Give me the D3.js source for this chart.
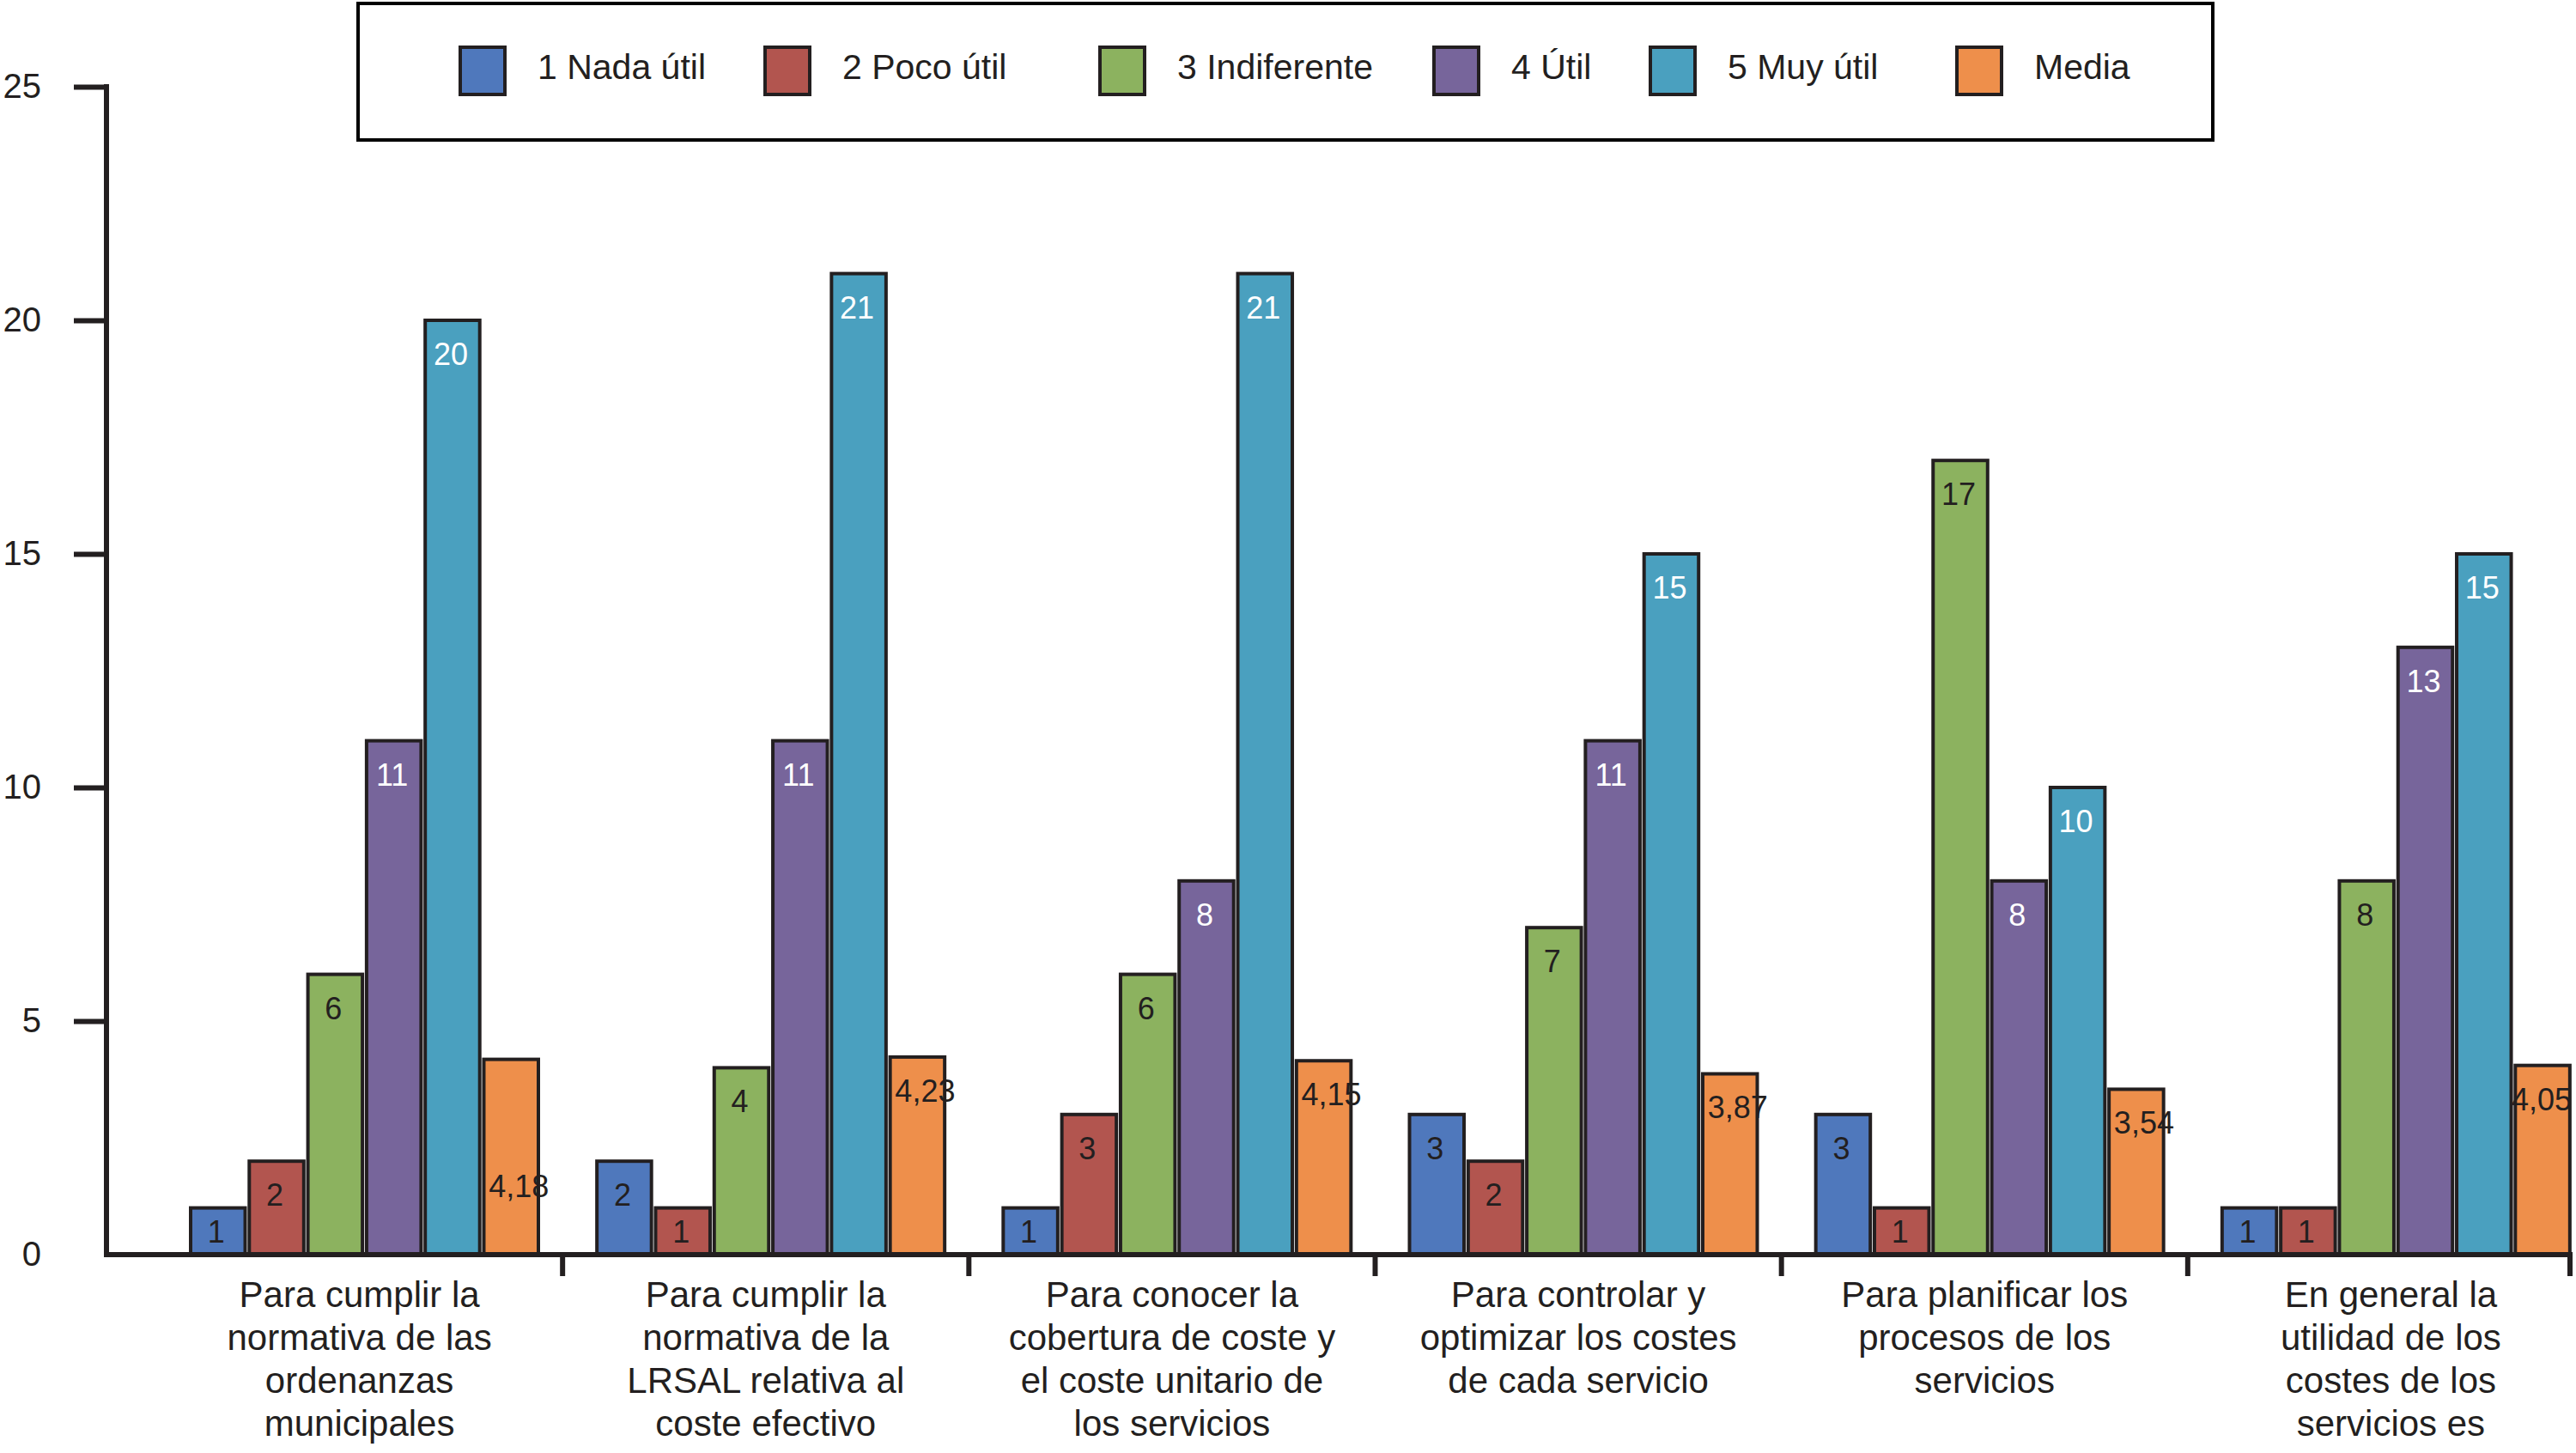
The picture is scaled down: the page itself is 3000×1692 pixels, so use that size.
<!DOCTYPE html>
<html lang="es">
<head>
<meta charset="UTF-8">
<title>Utilidad de los costes</title>
<script src="https://d3js.org/d3.v7.min.js"></script>
<style>
    body{ margin:0; background:#fff; }
    svg{ display:block; font-family:"Liberation Sans", Arial, Helvetica, sans-serif; }
</style>
</head>
<body>
<svg id="chart" width="3000" height="1692"></svg>
<script>
    // categorias (etiquetas del eje x, ya partidas en lineas)
    const categories = [
        ['Para cumplir la','normativa de las','ordenanzas','municipales'],
        ['Para cumplir la','normativa de la','LRSAL relativa al','coste efectivo'],
        ['Para conocer la','cobertura de coste y','el coste unitario de','los servicios'],
        ['Para controlar y','optimizar los costes','de cada servicio'],
        ['Para planificar los','procesos de los','servicios'],
        ['En general la','utilidad de los','costes de los','servicios es']
    ];
    const seriesNames = ['1 Nada útil','2 Poco útil','3 Indiferente','4 Útil','5 Muy útil','Media'];
    const nadaUtil    = [1, 2, 1, 3, 3, 1];
    const pocoUtil    = [2, 1, 3, 2, 1, 1];
    const indiferente = [6, 4, 6, 7, 17, 8];
    const util        = [11, 11, 8, 11, 8, 13];
    const muyUtil     = [20, 21, 21, 15, 10, 15];
    const media       = [4.18, 4.23, 4.15, 3.87, 3.54, 4.05];
    const yTicks = [0, 5, 10, 15, 20, 25];

    const values = [nadaUtil, pocoUtil, indiferente, util, muyUtil, media];
    const colors = ['#4f78bc','#b2554f','#8cb25f','#77659b','#4aa0bf','#ee8f4b'];
    const labelColors = ['#231f20','#231f20','#231f20','#fff','#fff','#231f20'];
    const ink = '#231f20';

    const svg = d3.select('#chart');
    const fmt = v => Number.isInteger(v) ? String(v) : v.toFixed(2).replace('.', ',');

    const y = d3.scaleLinear().domain([0,25]).range([1461,101]);
    const x0 = d3.scaleBand().domain(d3.range(categories.length)).range([182,3021]);
    const x1 = d3.scaleBand().domain(d3.range(seriesNames.length)).range([40,445]).paddingInner(0.07);

    // barras
    const groups = svg.append('g').selectAll('g')
        .data(categories)
        .join('g')
        .attr('transform',(d,i)=>`translate(${x0(i)},0)`);

    groups.each(function(c,ci){
        const g = d3.select(this);
        const rows = values.map((arr,si)=>({si, v:arr[ci]}));
        g.selectAll('rect')
            .data(rows)
            .join('rect')
            .attr('x',d=>x1(d.si))
            .attr('width',x1.bandwidth())
            .attr('y',d=>y(d.v))
            .attr('height',d=>y(0)-y(d.v))
            .attr('fill',d=>colors[d.si])
            .attr('stroke',ink)
            .attr('stroke-width',4);

        g.selectAll('text')
            .data(rows)
            .join('text')
            .text(d=>fmt(d.v))
            .attr('x',d=>{
                const cx = x1(d.si)+x1.bandwidth()/2+(d.si===5?9:-2);
                // que no se salga por la derecha
                return Math.min(cx, 3000-x0(ci)-40);
            })
            .attr('y',d=>{
                // etiqueta dentro del extremo, la media del primer grupo esta mas abajo
                if(d.si===5 && ci===0) return y(d.v)+160;
                return Math.min(y(d.v)+52, y(0)-14);
            })
            .attr('text-anchor','middle')
            .attr('font-size',36)
            .attr('fill',d=>labelColors[d.si]);
    });

    // eje y
    const yAxis = svg.append('g')
        .attr('transform','translate(124,0)')
        .call(d3.axisLeft(y).tickValues(yTicks).tickSize(38).tickSizeOuter(0).tickPadding(38).tickFormat(d3.format('d')));
    yAxis.select('.domain').remove();
    yAxis.selectAll('.tick line').attr('stroke',ink).attr('stroke-width',6)
        .filter(d=>d===0).remove();
    yAxis.selectAll('.tick text').attr('font-size',40).attr('fill',ink).attr('font-family',null);
    svg.append('line')
        .attr('x1',124).attr('x2',124)
        .attr('y1',y(25)-3).attr('y2',y(0)+3)
        .attr('stroke',ink).attr('stroke-width',6);

    // eje x
    svg.append('line')
        .attr('x1',121).attr('x2',2996)
        .attr('y1',y(0)).attr('y2',y(0))
        .attr('stroke',ink).attr('stroke-width',6);
    const xTickPos = d3.range(1,categories.length).map(i=>x0(i)).concat([2993]);
    svg.append('g').selectAll('line')
        .data(xTickPos)
        .join('line')
        .attr('x1',d=>d).attr('x2',d=>d)
        .attr('y1',y(0)).attr('y2',y(0)+25)
        .attr('stroke',ink).attr('stroke-width',6);

    svg.append('g').selectAll('text')
        .data(categories)
        .join('text')
        .attr('text-anchor','middle')
        .attr('font-size',42)
        .attr('fill',ink)
        .attr('transform',(d,i)=>`translate(${x0(i)+x0.bandwidth()/2},1522)`)
        .each(function(lines){
            d3.select(this).selectAll('tspan')
                .data(lines)
                .join('tspan')
                .attr('x',0)
                .attr('y',(l,j)=>j*50)
                .text(l=>l);
        });

    // leyenda
    const legendX = [536, 891, 1281, 1670, 1922, 2279];
    const legend = svg.append('g');
    legend.append('rect')
        .attr('x',417).attr('y',4).attr('width',2160).attr('height',159)
        .attr('fill','none').attr('stroke','#000').attr('stroke-width',4);
    const items = legend.selectAll('g')
        .data(seriesNames)
        .join('g')
        .attr('transform',(d,i)=>`translate(${legendX[i]},55)`);
    items.append('rect')
        .attr('width',52).attr('height',55)
        .attr('fill',(d,i)=>colors[i])
        .attr('stroke',ink).attr('stroke-width',4);
    items.append('text')
        .attr('x',90).attr('y',37)
        .attr('font-size',41)
        .attr('fill',ink)
        .text(d=>d);
</script>
</body>
</html>
